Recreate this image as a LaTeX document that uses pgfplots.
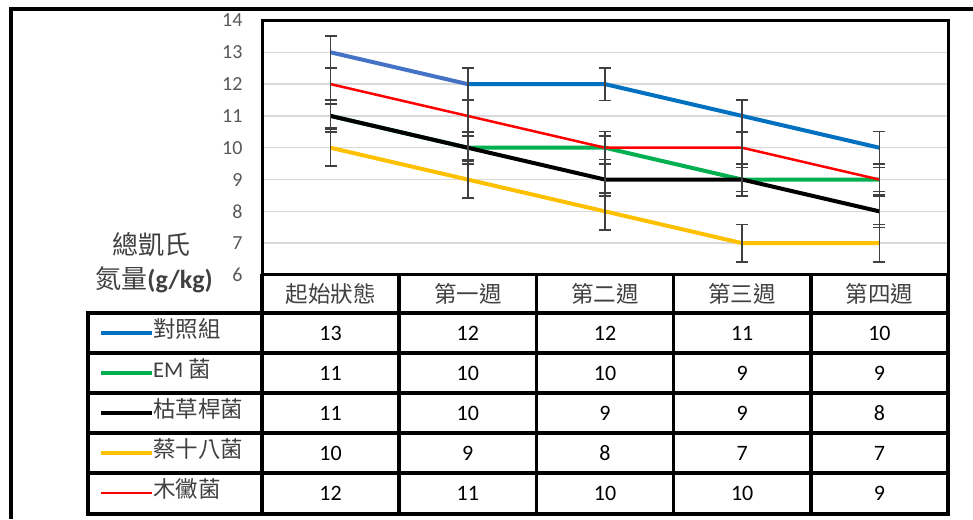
\documentclass[border=0pt]{standalone}
\usepackage{pgfplots}
\pgfplotsset{compat=1.18}
\usepackage{pgfplotstable}
\usepackage{fontspec}
\setmainfont{Carlito}
\newfontfamily\cjk{Noto Sans CJK TC}
\definecolor{cblue}{HTML}{0070C0}
\definecolor{cblue2}{HTML}{4472C4}
\definecolor{cgreen}{HTML}{00B050}
\definecolor{cyellow}{HTML}{FFC000}
\definecolor{cred}{HTML}{FF0000}
\definecolor{errgray}{HTML}{404040}
\definecolor{tickgray}{HTML}{595959}
\definecolor{gridgray}{HTML}{D9D9D9}
\definecolor{labgray}{HTML}{404040}

\pgfplotstableread{
x ctrl em bs yel red ectrl eem ebs eyel ered
0 13 11 11 10 12 0.51 0.374 0.51 0.583 0.51
1 12 10 10 9 11 0.51 0.374 0.51 0.583 0.51
2 12 10 9 8 10 0.51 0.374 0.51 0.583 0.51
3 11 9 9 7 10 0.51 0.374 0.51 0.583 0.51
4 10 9 8 7 9 0.51 0.374 0.51 0.583 0.51
}\data

\pgfplotsset{errstyle/.style={draw=none, mark=none, forget plot,
  error bars/.cd, y dir=both, y explicit,
  error bar style={draw=errgray, line width=1.6pt},
  error mark options={rotate=90, draw=errgray, line width=1.6pt, mark size=6pt}}}

\begin{document}
\begin{tikzpicture}[x=1pt,y=1pt]
\path[use as bounding box] (0,0) rectangle (973,519);
\draw[line width=4pt] (11,0) -- (11,510) -- (973,510);
\begin{axis}[at={(262pt,244pt)}, anchor=south west, scale only axis,
  width=686pt, height=254.5pt,
  xmin=-0.5, xmax=4.5, ymin=6, ymax=14, ytick={6,...,14}, xtick=\empty,
  major tick length=0pt, ymajorgrids,
  grid style={gridgray, line width=1.5pt},
  axis line style={line width=3pt},
  yticklabel style={font=\fontsize{20}{24}\selectfont, text=tickgray, xshift=-16pt},
  /pgf/number format/assume math mode=true, clip=false]
\addplot[cblue2, line width=4pt] table[x=x,y=ctrl, restrict x to domain=0:1]{\data};
\addplot[cblue, line width=4pt, line join=round] table[x=x,y=ctrl, restrict x to domain=1:4]{\data};
\addplot[cgreen, line width=4pt, line join=round] table[x=x,y=em]{\data};
\addplot[black, line width=4pt, line join=round] table[x=x,y=bs]{\data};
\addplot[cyellow, line width=4pt, line join=round] table[x=x,y=yel]{\data};
\addplot[cred, line width=2.5pt, line join=round] table[x=x,y=red]{\data};
\addplot[errstyle] table[x=x,y=ctrl,y error=ectrl]{\data};
\addplot[errstyle] table[x=x,y=em,y error=eem]{\data};
\addplot[errstyle] table[x=x,y=bs,y error=ebs]{\data};
\addplot[errstyle] table[x=x,y=yel,y error=eyel]{\data};
\addplot[errstyle] table[x=x,y=red,y error=ered]{\data};
\end{axis}
% y axis label
\node[text=labgray, font=\fontsize{26}{30}\selectfont\cjk] at (151,274) {總凱氏};
\node[text=labgray, font=\fontsize{26}{30}\selectfont] at (154,239) {{\cjk 氮量}\textbf{(g/kg)}};
% data table grid
\begin{scope}[line width=3.5pt]
\draw (262,245) -- (262,5);
\foreach \xx in {399.2,536.4,673.6,810.8,948} \draw (\xx,245) -- (\xx,5);
\draw (88,206) -- (88,3.25);
\foreach \yy in {206,166,126,86,46,5} \draw (86.25,\yy) -- (949.75,\yy);
\end{scope}
% header
\foreach \xx/\t in {330.6/起始狀態,467.8/第一週,605/第二週,742.2/第三週,879.4/第四週}
  \node[font=\fontsize{22.5}{26}\selectfont\cjk, text=labgray] at (\xx,225) {\t};
% legend keys
\draw[cblue, line width=4pt] (101,186) -- (152,186);
\draw[cgreen, line width=4pt] (101,146) -- (152,146);
\draw[black, line width=4pt] (101,106) -- (152,106);
\draw[cyellow, line width=4pt] (101,66) -- (152,66);
\draw[cred, line width=2.5pt] (101,26) -- (152,26);
\begin{scope}[every node/.style={anchor=west, inner sep=0pt, text=labgray, font=\fontsize{22.5}{26}\selectfont}]
\node at (153,190) {\cjk 對照組};
\node at (153,150) {EM {\cjk 菌}};
\node at (153,110) {\cjk 枯草桿菌};
\node at (153,70) {\cjk 蔡十八菌};
\node at (153,30) {\cjk 木黴菌};
\end{scope}
% values
\begin{scope}[every node/.style={font=\fontsize{22}{26}\selectfont, text=black}]
\foreach \xx/\a/\b/\c/\d/\e in {330.6/13/11/11/10/12, 467.8/12/10/10/9/11, 605/12/10/9/8/10, 742.2/11/9/9/7/10, 879.4/10/9/8/7/9}{
  \node at (\xx,186) {\a};
  \node at (\xx,146) {\b};
  \node at (\xx,106) {\c};
  \node at (\xx,66) {\d};
  \node at (\xx,26) {\e};
}
\end{scope}
\end{tikzpicture}
\end{document}
